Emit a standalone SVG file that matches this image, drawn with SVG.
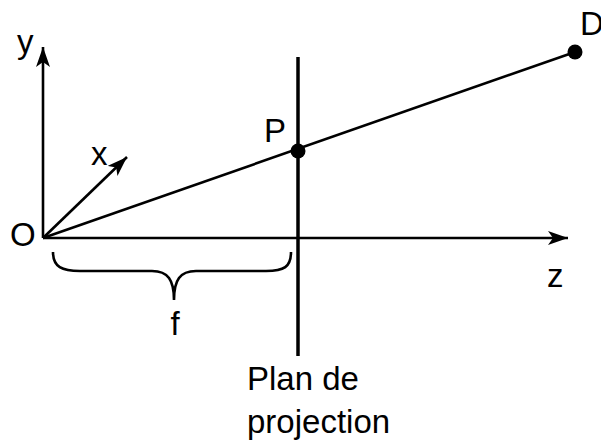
<svg xmlns="http://www.w3.org/2000/svg" width="601" height="443" viewBox="0 0 601 443">
<defs>
<style>
.ln{stroke:#000;stroke-width:2.6;fill:none}
.lbl{font-family:"Liberation Sans",Arial,sans-serif;font-size:33px;fill:#000}
</style>
<marker id="arr" markerUnits="userSpaceOnUse" markerWidth="24" markerHeight="16" refX="20" refY="7" orient="auto" viewBox="0 0 24 16">
<path d="M0,0 L20,7 L0,14 L5,7 Z" fill="#000"/>
</marker>
</defs>
<rect width="601" height="443" fill="#fff"/>
<g id="connectors">
<line class="ln" x1="43" y1="238" x2="43" y2="47" marker-end="url(#arr)"/>
<line class="ln" x1="43" y1="238" x2="127" y2="157" marker-end="url(#arr)"/>
<line class="ln" x1="43" y1="238" x2="568" y2="238" marker-end="url(#arr)"/>
<line class="ln" x1="43" y1="238" x2="575" y2="52"/>
<line class="ln" x1="298" y1="57" x2="298" y2="356" style="stroke-width:3.5"/>
<path class="ln" d="M53,252 C53,267 62,271 80,271 L152,271 C168,271 174,280 174,300 C174,280 180,271 196,271 L266,271 C284,271 291,267 291,252"/>
</g>
<g id="node-O"><text class="lbl" x="10" y="246">O</text></g>
<g id="node-y"><text class="lbl" x="17" y="53">y</text></g>
<g id="node-x"><text class="lbl" x="91" y="165">x</text></g>
<g id="node-z"><text class="lbl" x="547" y="287">z</text></g>
<g id="node-P"><circle cx="298" cy="151" r="7.5" fill="#000"/><text class="lbl" x="264" y="142">P</text></g>
<g id="node-D"><circle cx="575" cy="52" r="7.5" fill="#000"/><text class="lbl" x="580" y="35">D</text></g>
<g id="node-f"><text class="lbl" x="175" y="335" text-anchor="middle">f</text></g>
<g id="node-plan"><text class="lbl" x="247" y="390">Plan de</text><text class="lbl" x="247" y="433">projection</text></g>
</svg>
